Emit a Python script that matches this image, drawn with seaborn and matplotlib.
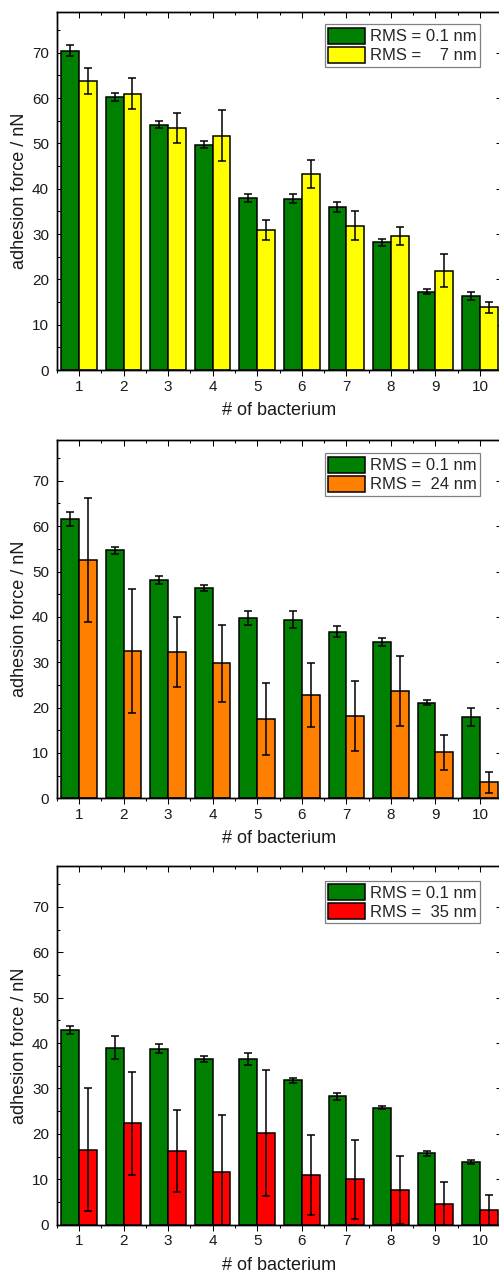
import numpy as np
import pandas as pd
import matplotlib
matplotlib.use("Agg")
import matplotlib.pyplot as plt
import seaborn as sns
from matplotlib.ticker import FixedLocator, MultipleLocator

sns.set_style("ticks")
plt.rcParams["font.family"] = ["Liberation Sans", "DejaVu Sans"]

# ---------------- data ----------------
bacteria = [str(i) for i in range(1, 11)]
smooth_label = "RMS = 0.1 nm"
green = "#008000"

# panel 1 (RMS 7 nm)
p1_smooth = [70.5, 60.2, 54.1, 49.7, 37.95, 37.8, 36.0, 28.2, 17.3, 16.4]
p1_smooth_err = [1.3, 0.9, 0.75, 0.8, 0.8, 1.0, 1.1, 0.8, 0.6, 0.9]
p1_rough = [63.7, 61.0, 53.4, 51.7, 30.9, 43.3, 31.8, 29.6, 21.9, 13.8]
p1_rough_err = [2.9, 3.4, 3.4, 5.6, 2.25, 3.1, 3.2, 1.95, 3.65, 1.15]
p1_label = "RMS =    7 nm"
p1_color = "#FFFF00"

# panel 2 (RMS 24 nm)
p2_smooth = [61.6, 54.65, 48.1, 46.35, 39.7, 39.4, 36.7, 34.45, 21.1, 17.9]
p2_smooth_err = [1.5, 0.8, 0.9, 0.7, 1.55, 1.9, 1.2, 0.8, 0.55, 1.9]
p2_rough = [52.5, 32.5, 32.3, 29.8, 17.5, 22.8, 18.1, 23.7, 10.1, 3.5]
p2_rough_err = [13.7, 13.7, 7.7, 8.5, 8.0, 7.05, 7.7, 7.7, 3.95, 2.3]
p2_label = "RMS =  24 nm"
p2_color = "#FF8000"

# panel 3 (RMS 35 nm)
p3_smooth = [42.9, 39.0, 38.8, 36.5, 36.5, 31.8, 28.3, 25.8, 15.7, 13.8]
p3_smooth_err = [0.9, 2.5, 0.9, 0.75, 1.25, 0.6, 0.8, 0.4, 0.5, 0.35]
p3_rough = [16.5, 22.3, 16.25, 11.5, 20.15, 11.0, 10.0, 7.7, 4.5, 3.2]
p3_rough_err = [13.55, 11.4, 9.1, 12.7, 13.9, 8.85, 8.75, 7.5, 4.8, 3.4]
p3_label = "RMS =  35 nm"
p3_color = "#FF0000"

panels = [
    (p1_smooth, p1_smooth_err, p1_rough, p1_rough_err, p1_label, p1_color),
    (p2_smooth, p2_smooth_err, p2_rough, p2_rough_err, p2_label, p2_color),
    (p3_smooth, p3_smooth_err, p3_rough, p3_rough_err, p3_label, p3_color),
]

# ---------------- layout ----------------
W, H = 499, 1279
fig = plt.figure(figsize=(W / 100, H / 100), dpi=100)
left_px, right_px = 56.7, 502.3
tops = [12.0, 440.0, 866.0]
bottoms = [370.0, 798.3, 1224.7]
legend_tops = [24.3, 453.3, 880.7]

for (sm, sme, ro, roe, rlab, rcol), top, bot, ltop in zip(panels, tops, bottoms, legend_tops):
    ax = fig.add_axes([left_px / W, 1 - bot / H, (right_px - left_px) / W, (bot - top) / H])
    df = pd.DataFrame({
        "bacterium": bacteria * 2,
        "force": sm + ro,
        "series": [smooth_label] * 10 + [rlab] * 10,
    })
    sns.barplot(data=df, x="bacterium", y="force", hue="series", order=bacteria,
                hue_order=[smooth_label, rlab], palette=[green, rcol],
                errorbar=None, edgecolor="black", linewidth=1.1, saturation=1,
                width=0.8, legend=False, ax=ax)
    bars = list(ax.containers)
    for cont, errs in zip(bars, [sme, roe]):
        xs = [p.get_x() + p.get_width() / 2 for p in cont.patches]
        hs = [p.get_height() for p in cont.patches]
        ax.errorbar(xs, hs, yerr=errs, fmt="none", ecolor="black", elinewidth=1.1,
                    capsize=3.2, capthick=1.1, zorder=4)

    ax.set_xlim(-0.5, 9.5)
    ax.set_ylim(0, 79)
    ax.yaxis.set_major_locator(FixedLocator([0, 10, 20, 30, 40, 50, 60, 70]))
    ax.yaxis.set_minor_locator(FixedLocator([5, 15, 25, 35, 45, 55, 65, 75]))
    ax.xaxis.set_minor_locator(FixedLocator(np.arange(-0.5, 10, 1.0)))
    ax.set_xticks(range(10), bacteria)

    ax.tick_params(axis="y", which="both", direction="in", left=True, right=True,
                   width=0.75, labelsize=11, pad=5.5, color="black", labelcolor="#1a1a1a")
    ax.tick_params(axis="y", which="major", length=4.3)
    ax.tick_params(axis="y", which="minor", length=2.5)
    ax.tick_params(axis="x", which="both", direction="out", bottom=True, top=False,
                   width=0.75, labelsize=11, pad=2.7, color="black", labelcolor="#1a1a1a")
    ax.tick_params(axis="x", which="major", length=4.3)
    ax.tick_params(axis="x", which="minor", length=2.5)
    for s in ax.spines.values():
        s.set_linewidth(1.0)
        s.set_color("black")
        s.set_visible(True)
    ax.set_axisbelow(True)

    ax.set_xlabel("# of bacterium", fontsize=13, labelpad=6, color="#1a1a1a")
    ax.set_ylabel("adhesion force / nN", fontsize=13, labelpad=3, color="#1a1a1a")

    # top axis with inward ticks
    axt = ax.twiny()
    axt.set_xlim(-0.5, 9.5)
    axt.xaxis.set_major_locator(FixedLocator(range(10)))
    axt.xaxis.set_minor_locator(FixedLocator(np.arange(-0.5, 10, 1.0)))
    axt.tick_params(axis="x", which="both", direction="in", top=True, bottom=False,
                    labeltop=False, labelbottom=False, width=0.75, color="black")
    axt.tick_params(axis="x", which="major", length=4.3)
    axt.tick_params(axis="x", which="minor", length=2.5)
    for s in axt.spines.values():
        s.set_linewidth(1.0)
        s.set_color("black")

    lx = (480.0 - left_px) / (right_px - left_px)
    ly = 1 - (ltop - top) / (bot - top)
    leg = ax.legend(handles=bars, labels=[smooth_label, rlab], loc="upper right",
                    bbox_to_anchor=(lx, ly), borderaxespad=0, fontsize=12,
                    handlelength=2.2, handleheight=1.1, handletextpad=0.3,
                    borderpad=0.2, labelspacing=0.15, fancybox=False, framealpha=1,
                    edgecolor="#808080")
    leg.get_frame().set_linewidth(0.9)
    leg.set_zorder(10)

fig.savefig("out.png", dpi=100)
